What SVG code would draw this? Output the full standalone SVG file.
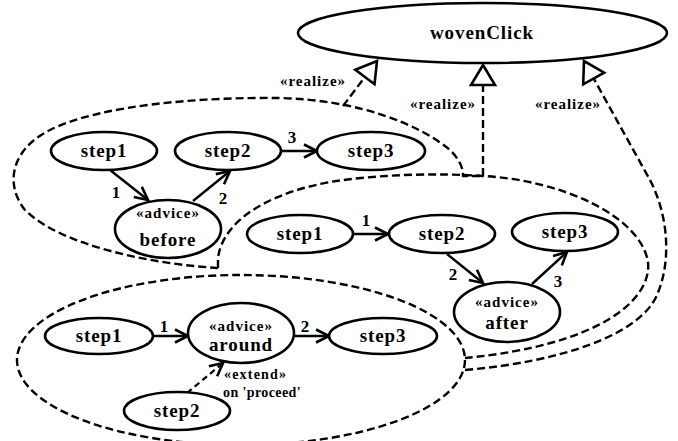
<svg xmlns="http://www.w3.org/2000/svg" width="678" height="441" viewBox="0 0 678 441">
<style>
  .node { fill: #fff; stroke: #000; stroke-width: 2.6; }
  .grp { fill: none; stroke: #000; stroke-width: 2.4; stroke-dasharray: 8 4; }
  .real { fill: none; stroke: #000; stroke-width: 2.4; stroke-dasharray: 8 4; marker-end: url(#tri); }
  .arr { fill: none; stroke: #000; stroke-width: 2.4; marker-end: url(#open); }
  .ext { fill: none; stroke: #000; stroke-width: 2.2; stroke-dasharray: 6 4; marker-end: url(#open); }
  text { font-family: "Liberation Serif", "Times New Roman", serif; font-weight: bold; fill: #000; }
  .lbl { font-size: 19px; letter-spacing: 0.9px; text-anchor: middle; }
  .st { font-size: 15px; letter-spacing: 1px; text-anchor: middle; }
  .num { font-size: 17px; text-anchor: middle; }
  .rz { font-size: 15px; letter-spacing: 1px; text-anchor: middle; }
  .sm { font-size: 14px; }
</style>
<defs>
  <marker id="tri" markerUnits="userSpaceOnUse" markerWidth="30" markerHeight="30" refX="22" refY="13" orient="auto" overflow="visible">
    <path d="M2,1 L22,13 L2,25 Z" fill="#fff" stroke="#000" stroke-width="2.6" stroke-dasharray="none" stroke-linejoin="miter"/>
  </marker>
  <marker id="open" markerUnits="userSpaceOnUse" markerWidth="20" markerHeight="20" refX="14" refY="7" orient="auto" overflow="visible">
    <path d="M1,0.5 L14,7 L1,13.5" fill="none" stroke="#000" stroke-width="2.6" stroke-dasharray="none"/>
  </marker>
</defs>

<g id="connectors">
  <!-- group outlines -->
  <path class="grp" d="M218,268 C150,264 60,245 25,210 C5,185 10,150 50,130 C100,105 200,97 280,98 C360,100 420,125 450,150 C460,160 463,168 463,176 L483,176"/>
  <path class="grp" d="M218,268 L218,258 C222,225 260,195 330,182 C380,174 440,173 483,176 C560,180 640,215 648,262 C652,300 600,345 465,358"/>
  <ellipse class="grp" cx="241" cy="360" rx="224" ry="85"/>
  <!-- realize -->
  <path class="real" d="M343,106 L377,61"/>
  <path class="real" d="M483,176 L483,65"/>
  <path class="real" d="M465,370 C560,362 640,335 657,295 C672,260 668,215 650,180 L584,61"/>
  <!-- group 1 flows -->
  <path class="arr" d="M110,170 L148,200"/>
  <path class="arr" d="M193,201 L230,171"/>
  <path class="arr" d="M280,151 L317,151"/>
  <!-- group 2 flows -->
  <path class="arr" d="M353,234 L388,234"/>
  <path class="arr" d="M447,254 L483,283"/>
  <path class="arr" d="M532,284 L567,252"/>
  <!-- group 3 flows -->
  <path class="arr" d="M153,336 L188,336"/>
  <path class="arr" d="M295,336 L329,336"/>
  <path class="ext" d="M187,393 L223,363"/>
</g>

<g id="labels">
  <text class="rz" x="313" y="86">«realize»</text>
  <text class="rz" x="443" y="109">«realize»</text>
  <text class="rz" x="568" y="109">«realize»</text>
  <text class="num" x="116" y="198">1</text>
  <text class="num" x="223" y="204">2</text>
  <text class="num" x="292" y="143">3</text>
  <text class="num" x="366" y="226">1</text>
  <text class="num" x="453" y="280">2</text>
  <text class="num" x="558" y="287">3</text>
  <text class="num" x="164" y="332">1</text>
  <text class="num" x="305" y="332">2</text>
  <text class="sm" x="224" y="379" letter-spacing="1.2">«extend»</text>
  <text class="sm" x="223" y="397" letter-spacing="0.4">on 'proceed'</text>
</g>

<g id="wovenClick">
  <ellipse class="node" cx="482.5" cy="33" rx="184.5" ry="30"/>
  <text class="lbl" x="482" y="39">wovenClick</text>
</g>

<g id="g1-step1"><ellipse class="node" cx="104" cy="151" rx="53" ry="19"/><text class="lbl" x="104" y="157">step1</text></g>
<g id="g1-step2"><ellipse class="node" cx="228" cy="151" rx="53" ry="19"/><text class="lbl" x="228" y="157">step2</text></g>
<g id="g1-step3"><ellipse class="node" cx="371" cy="151" rx="54" ry="19"/><text class="lbl" x="371" y="157">step3</text></g>
<g id="g1-before"><ellipse class="node" cx="168" cy="229" rx="53" ry="29"/><text class="st" x="168" y="218">«advice»</text><text class="lbl" x="168" y="246">before</text></g>

<g id="g2-step1"><ellipse class="node" cx="300" cy="234" rx="53" ry="19"/><text class="lbl" x="300" y="240">step1</text></g>
<g id="g2-step2"><ellipse class="node" cx="442" cy="234" rx="53" ry="19"/><text class="lbl" x="442" y="240">step2</text></g>
<g id="g2-step3"><ellipse class="node" cx="565" cy="232" rx="53" ry="19"/><text class="lbl" x="565" y="238">step3</text></g>
<g id="g2-after"><ellipse class="node" cx="507" cy="312" rx="53" ry="30"/><text class="st" x="507" y="307">«advice»</text><text class="lbl" x="507" y="329">after</text></g>

<g id="g3-step1"><ellipse class="node" cx="99" cy="336" rx="54" ry="18"/><text class="lbl" x="99" y="342">step1</text></g>
<g id="g3-around"><ellipse class="node" cx="241" cy="333" rx="53" ry="30"/><text class="st" x="241" y="331">«advice»</text><text class="lbl" x="241" y="351">around</text></g>
<g id="g3-step3"><ellipse class="node" cx="383" cy="336" rx="54" ry="18"/><text class="lbl" x="383" y="342">step3</text></g>
<g id="g3-step2"><ellipse class="node" cx="177" cy="411" rx="53" ry="19"/><text class="lbl" x="177" y="417">step2</text></g>
</svg>
